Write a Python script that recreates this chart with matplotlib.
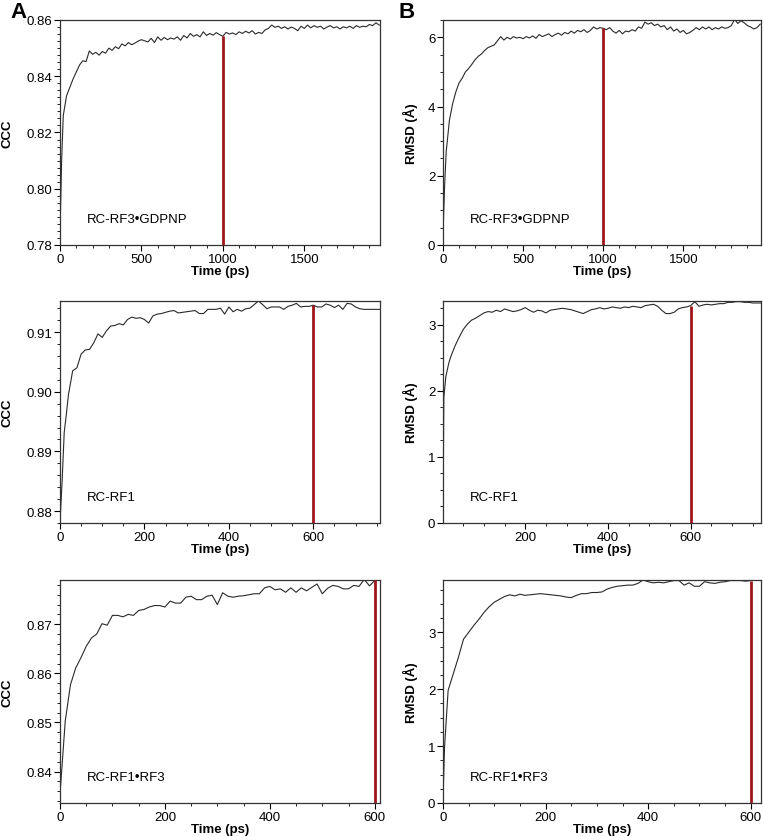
import numpy as np
import matplotlib
matplotlib.use('Agg')
import matplotlib.pyplot as plt
from matplotlib.ticker import MultipleLocator

plt.rcParams['font.family'] = ['Liberation Sans', 'DejaVu Sans']
plt.rcParams['font.size'] = 9

# RC-RF3•GDPNP, CCC
t_gdpnp = np.concatenate([[0, 10], np.arange(20, 1961, 20)])
ccc_gdpnp = [0.784, 0.810, 0.826, 0.833, 0.836, 0.839, 0.8415, 0.8440, 0.8455, 0.8452,
             0.8490, 0.8478, 0.8485, 0.8475, 0.8488, 0.8482, 0.8500, 0.8492, 0.8505, 0.8498,
             0.8515, 0.8508, 0.8520, 0.8512, 0.8518, 0.8525, 0.8530, 0.8526, 0.8522, 0.8535,
             0.8520, 0.8540, 0.8528, 0.8538, 0.8530, 0.8536, 0.8532, 0.8540, 0.8528, 0.8545,
             0.8536, 0.8552, 0.8542, 0.8548, 0.8540, 0.8558, 0.8545, 0.8552, 0.8546, 0.8555,
             0.8548, 0.8542, 0.8556, 0.8550, 0.8554, 0.8548, 0.8558, 0.8552, 0.8560, 0.8554,
             0.8562, 0.8550, 0.8556, 0.8552, 0.8565, 0.8570, 0.8582, 0.8574, 0.8578, 0.8570,
             0.8576, 0.8568, 0.8575, 0.8570, 0.8562, 0.8578, 0.8570, 0.8582, 0.8572, 0.8580,
             0.8574, 0.8578, 0.8568, 0.8575, 0.8580, 0.8572, 0.8576, 0.8568, 0.8576, 0.8572,
             0.8578, 0.8570, 0.8580, 0.8574, 0.8578, 0.8576, 0.8584, 0.8580, 0.8590, 0.8582]

# RC-RF3•GDPNP, RMSD
t_gdpnp_r = np.concatenate([[0, 10], np.arange(20, 1981, 20)])
rmsd_gdpnp = [0.3, 1.7, 2.7, 3.6, 4.08, 4.42, 4.68, 4.82, 5.0, 5.1,
              5.22, 5.35, 5.45, 5.52, 5.62, 5.70, 5.74, 5.78, 5.90, 6.02,
              5.92, 6.00, 5.95, 6.02, 5.98, 6.00, 5.96, 6.02, 5.98, 6.04,
              5.97, 6.08, 6.02, 6.06, 6.10, 6.02, 6.08, 6.12, 6.06, 6.14,
              6.10, 6.18, 6.12, 6.20, 6.16, 6.22, 6.14, 6.20, 6.30, 6.24,
              6.28, 6.26, 6.22, 6.28, 6.18, 6.12, 6.20, 6.10, 6.18, 6.16,
              6.22, 6.18, 6.30, 6.26, 6.44, 6.38, 6.42, 6.34, 6.38, 6.30,
              6.34, 6.22, 6.30, 6.18, 6.24, 6.14, 6.20, 6.10, 6.14, 6.20,
              6.28, 6.22, 6.30, 6.24, 6.30, 6.22, 6.28, 6.24, 6.30, 6.26,
              6.28, 6.34, 6.52, 6.40, 6.48, 6.42, 6.34, 6.30, 6.24, 6.28,
              6.38]

# RC-RF1, CCC
t_rf1 = np.concatenate([[0, 5, 10, 15, 20], np.arange(30, 761, 10)])
ccc_rf1 = [0.8780, 0.8850, 0.8932, 0.8962, 0.8995, 0.9035, 0.9040, 0.9063, 0.9070, 0.9071,
           0.9082, 0.9097, 0.9091, 0.9102, 0.9110, 0.9111, 0.9114, 0.9112, 0.9121, 0.9125,
           0.9123, 0.9124, 0.9121, 0.9115, 0.9127, 0.9130, 0.9131, 0.9133, 0.9135, 0.9136,
           0.9132, 0.9133, 0.9134, 0.9135, 0.9136, 0.9131, 0.9131, 0.9138, 0.9138, 0.9138,
           0.9140, 0.9130, 0.9142, 0.9134, 0.9138, 0.9135, 0.9139, 0.9140, 0.9146, 0.9152,
           0.9146, 0.9139, 0.9142, 0.9142, 0.9142, 0.9138, 0.9143, 0.9145, 0.9148, 0.9142,
           0.9143, 0.9143, 0.9145, 0.9142, 0.9142, 0.9147, 0.9145, 0.9141, 0.9145, 0.9138,
           0.9148, 0.9147, 0.9142, 0.9139, 0.9138, 0.9138, 0.9138, 0.9138, 0.9138]

# RC-RF1, RMSD
t_rf1_r = np.concatenate([[1, 3, 8, 15], np.arange(20, 771, 10)])
rmsd_rf1 = [0.05, 1.9, 2.22, 2.42, 2.52, 2.68, 2.81, 2.93, 3.01, 3.07,
            3.10, 3.14, 3.18, 3.20, 3.19, 3.22, 3.20, 3.24, 3.22, 3.20,
            3.21, 3.23, 3.26, 3.22, 3.19, 3.22, 3.21, 3.18, 3.22, 3.23,
            3.24, 3.25, 3.24, 3.23, 3.21, 3.19, 3.17, 3.20, 3.23, 3.24,
            3.26, 3.24, 3.25, 3.27, 3.26, 3.25, 3.27, 3.26, 3.28, 3.27,
            3.26, 3.29, 3.30, 3.31, 3.28, 3.22, 3.17, 3.17, 3.19, 3.24,
            3.26, 3.27, 3.29, 3.35, 3.28, 3.30, 3.31, 3.30, 3.31, 3.32,
            3.32, 3.34, 3.34, 3.35, 3.35, 3.34, 3.34, 3.33, 3.33, 3.33]

# RC-RF1•RF3, CCC
t_rf13 = np.concatenate([[0, 5], np.arange(10, 611, 10)])
ccc_rf13 = [0.8354, 0.8428, 0.8503, 0.8577, 0.8611, 0.8632, 0.8655, 0.8672, 0.8680, 0.8701,
            0.8698, 0.8718, 0.8718, 0.8715, 0.8720, 0.8718, 0.8728, 0.8730, 0.8735, 0.8738,
            0.8738, 0.8735, 0.8747, 0.8743, 0.8743, 0.8755, 0.8757, 0.8750, 0.8750, 0.8757,
            0.8759, 0.8740, 0.8764, 0.8757, 0.8755, 0.8757, 0.8758, 0.8760, 0.8762, 0.8762,
            0.8774, 0.8777, 0.8770, 0.8772, 0.8765, 0.8774, 0.8765, 0.8774, 0.8768, 0.8775,
            0.8782, 0.8762, 0.8773, 0.8779, 0.8777, 0.8772, 0.8772, 0.8779, 0.8777, 0.8791,
            0.8778, 0.8789, 0.8790]

# RC-RF1•RF3, RMSD
t_rf13_r = np.concatenate([[0, 3], np.arange(10, 621, 10)])
rmsd_rf13 = [0.05, 0.98, 1.98, 2.27, 2.56, 2.88, 3.00, 3.12, 3.23, 3.35,
             3.45, 3.53, 3.58, 3.63, 3.66, 3.64, 3.67, 3.65, 3.66, 3.67,
             3.68, 3.67, 3.66, 3.65, 3.64, 3.62, 3.61, 3.65, 3.68, 3.68,
             3.70, 3.70, 3.71, 3.76, 3.79, 3.81, 3.82, 3.83, 3.83, 3.86,
             3.92, 3.89, 3.87, 3.88, 3.87, 3.89, 3.91, 3.91, 3.83, 3.87,
             3.81, 3.81, 3.89, 3.87, 3.86, 3.88, 3.89, 3.91, 3.91, 3.91,
             3.90, 3.91, 3.92, 3.92]

labels = ['RC-RF3\u2022GDPNP', 'RC-RF1', 'RC-RF1\u2022RF3']
cut_times = [1000, 600, 600]

panels = [
    # (time, values, xlim, ylim, xmajor, xminor, ymajor, yminor, fmt)
    [(t_gdpnp, ccc_gdpnp, (0, 1965), (0.78, 0.86), 500, 100, 0.02, 0.0025, '%.2f'),
     (t_gdpnp_r, rmsd_gdpnp, (0, 1985), (0, 6.5), 500, 100, 2, 0.5, '%d')],
    [(t_rf1, ccc_rf1, (0, 758), (0.878, 0.9152), 200, 50, 0.01, 0.002, '%.2f'),
     (t_rf1_r, rmsd_rf1, (1, 770), (0, 3.36), 200, 50, 1, 0.25, '%d')],
    [(t_rf13, ccc_rf13, (0, 610), (0.8336, 0.879), 200, 50, 0.01, 0.002, '%.2f'),
     (t_rf13_r, rmsd_rf13, (0, 620), (0, 3.92), 200, 50, 1, 0.25, '%d')],
]

W, H = 763, 837
lefts = [60, 443]
widths = [320, 318]
rows = [(21, 246), (302, 524), (581, 804)]

fig = plt.figure(figsize=(W / 100, H / 100), dpi=100)

for i, row in enumerate(panels):
    top, bot = rows[i]
    for j, (t, vals, xl, yl, xmaj, xmin, ymaj, ymin, fmt) in enumerate(row):
        ax = fig.add_axes([lefts[j] / W, 1 - bot / H, widths[j] / W, (bot - top) / H])
        ax.plot(t, vals, color='#2a2a2a', lw=0.8)
        ct = cut_times[i]
        ax.vlines(ct, yl[0], np.interp(ct, t, vals), color='#9e1619', lw=2.0, zorder=3)
        ax.set_xlim(*xl)
        ax.set_ylim(*yl)
        ax.xaxis.set_major_locator(MultipleLocator(xmaj))
        ax.xaxis.set_minor_locator(MultipleLocator(xmin))
        ax.yaxis.set_major_locator(MultipleLocator(ymaj))
        ax.yaxis.set_minor_locator(MultipleLocator(ymin))
        ax.yaxis.set_major_formatter(plt.FormatStrFormatter(fmt))
        ax.tick_params(which='major', length=4, width=0.8, pad=1.5, labelsize=9.5)
        ax.tick_params(which='minor', length=2, width=0.6)
        for s in ax.spines.values():
            s.set_linewidth(0.9)
            s.set_color('#333333')
        ax.set_xlabel('Time (ps)', fontweight='bold', fontsize=9.5, labelpad=0.5)
        if j == 0:
            ax.set_ylabel('CCC', fontweight='bold', fontsize=9.5)
            ax.yaxis.set_label_coords(-0.145, 0.5)
        else:
            ax.set_ylabel('RMSD (\u00c5)', fontweight='bold', fontsize=9.5)
            ax.yaxis.set_label_coords(-0.08, 0.5)
        ax.text(0.085, 0.115, labels[i], transform=ax.transAxes, fontsize=9.5,
                va='center', ha='left')

fig.text(10 / W, 1 - 12 / H, 'A', fontsize=16, fontweight='bold', va='center', ha='left')
fig.text(399 / W, 1 - 12 / H, 'B', fontsize=16, fontweight='bold', va='center', ha='left')

fig.savefig('out.png', dpi=100)
